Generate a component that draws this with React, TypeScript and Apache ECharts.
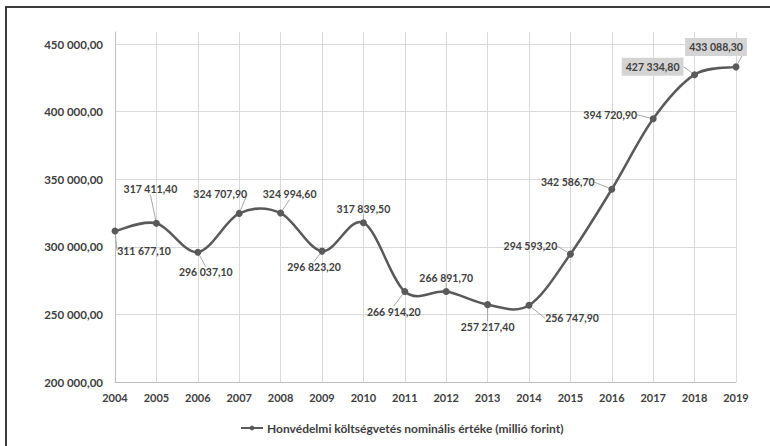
import React, { useEffect, useRef } from "react";
import * as echarts from "echarts";

const years = ["2004","2005","2006","2007","2008","2009","2010","2011","2012","2013","2014","2015","2016","2017","2018","2019"];
const values = [311677.1, 317411.4, 296037.1, 324707.9, 324994.6, 296823.2, 317839.5, 266914.2, 266891.7, 257217.4, 256747.9, 294593.2, 342586.7, 394720.9, 427334.8, 433088.3];
const seriesName = "Honvédelmi költségvetés nominális értéke (millió forint)";
const highlighted = ["2018", "2019"];

// label offsets (style only)
const labelOffsets: [number, number][] = [
  [29, 20], [-6, -34], [8, 20], [-19, -19], [9, -19], [-8, 16], [0, -14], [-11, 20],
  [0, -14], [0, 22], [43, 13], [-40, -8], [-44, -7], [-43, -4], [-42, -8], [-20, -20],
];

function fmt(v: number): string {
  const s = v.toFixed(2);
  const [intPart, dec] = s.split(".");
  const withSp = intPart.replace(/\B(?=(\d{3})+(?!\d))/g, " ");
  return withSp + "," + dec;
}

export default function App() {
  const ref = useRef<HTMLDivElement>(null);
  useEffect(() => {
    if (!ref.current) return;
    const chart = echarts.init(ref.current, undefined, { renderer: "svg" });
    const textColor = "#404040";
    const font = "Lato";
    const lineColor = "#595959";
    const n = values.length;
    chart.setOption({
      animation: false,
      backgroundColor: "#ffffff",
      grid: { left: 115, right: 34, top: 32, bottom: 64 },
      legend: {
        left: 235,
        top: 417,
        itemWidth: 22,
        itemHeight: 6,
        itemGap: 6,
        textStyle: { color: textColor, fontFamily: font, fontWeight: "bold", fontSize: 12, padding: [0, 0, 0, -1] },
        data: [{ name: seriesName, lineStyle: { color: lineColor, width: 2, opacity: 1 } }],
      },
      xAxis: {
        type: "category",
        data: years,
        boundaryGap: false,
        axisLine: { lineStyle: { color: "#bfbfbf", width: 1 } },
        axisTick: { show: false },
        splitLine: { show: true, lineStyle: { color: "#d9d9d9", width: 1 } },
        axisLabel: { color: textColor, fontFamily: font, fontWeight: "bold", fontSize: 11, margin: 10 },
      },
      yAxis: {
        type: "value",
        min: 200000,
        max: 458900,
        interval: 50000,
        axisLine: { show: true, lineStyle: { color: "#bfbfbf", width: 1 } },
        axisTick: { show: false },
        splitLine: { show: true, showMaxLine: false, lineStyle: { color: "#d9d9d9", width: 1 } },
        axisLabel: {
          showMaxLabel: false,
          color: textColor,
          fontFamily: font,
          fontWeight: "bold",
          fontSize: 11.5,
          margin: 12,
          formatter: (v: number) => (v > 450000 ? "" : fmt(v)),
        },
      },
      series: [
        {
          name: "curve",
          type: "custom",
          z: 2,
          silent: true,
          data: values.map((v, i) => [i, v]),
          renderItem: (params: any, api: any) => {
            const i = params.dataIndex;
            if (i >= n - 1) return null;
            const pt = (k: number) => {
              const kk = Math.max(0, Math.min(n - 1, k));
              return api.coord([kk, api.value(1, kk)]);
            };
            const p0 = pt(i - 1), p1 = pt(i), p2 = pt(i + 1), p3 = pt(i + 2);
            const t = 1 / 6;
            return {
              type: "bezierCurve",
              shape: {
                x1: p1[0], y1: p1[1],
                x2: p2[0], y2: p2[1],
                cpx1: p1[0] + (p2[0] - p0[0]) * t,
                cpy1: p1[1] + (p2[1] - p0[1]) * t,
                cpx2: p2[0] - (p3[0] - p1[0]) * t,
                cpy2: p2[1] - (p3[1] - p1[1]) * t,
              },
              style: { stroke: lineColor, lineWidth: 2.5, fill: "none" },
            };
          },
        },
        {
          name: seriesName,
          type: "line",
          z: 3,
          data: values.map((v, i) => ({
            value: v,
            label: highlighted.includes(years[i])
              ? { backgroundColor: "#d4d4d4", padding: [4, 4, 3, 4] }
              : undefined,
          })),
          symbol: "circle",
          symbolSize: 7,
          lineStyle: { color: lineColor, width: 2.5, opacity: 0 },
          itemStyle: { color: lineColor },
          label: {
            show: true,
            position: "inside",
            color: textColor,
            fontFamily: font,
            fontWeight: "bold",
            fontSize: 10.5,
            formatter: (p: any) => fmt(p.value as number),
          },
          labelLine: { show: true, lineStyle: { color: "#a6a6a6", width: 1 } },
          labelLayout: (p: any) => ({ dx: labelOffsets[p.dataIndex][0], dy: labelOffsets[p.dataIndex][1] }),
        },
      ],
    });
    return () => chart.dispose();
  }, []);
  return (
    <div style={{ position: "absolute", left: 0, top: 0, width: 770, height: 446, background: "#fff" }}>
      <div ref={ref} style={{ position: "absolute", left: 0, top: 0, width: 770, height: 446 }} />
      <div
        style={{
          position: "absolute",
          left: 5,
          top: 6,
          width: 800,
          height: 500,
          borderLeft: "2px solid #3a3a3a",
          borderTop: "2px solid #3a3a3a",
          pointerEvents: "none",
        }}
      />
    </div>
  );
}
